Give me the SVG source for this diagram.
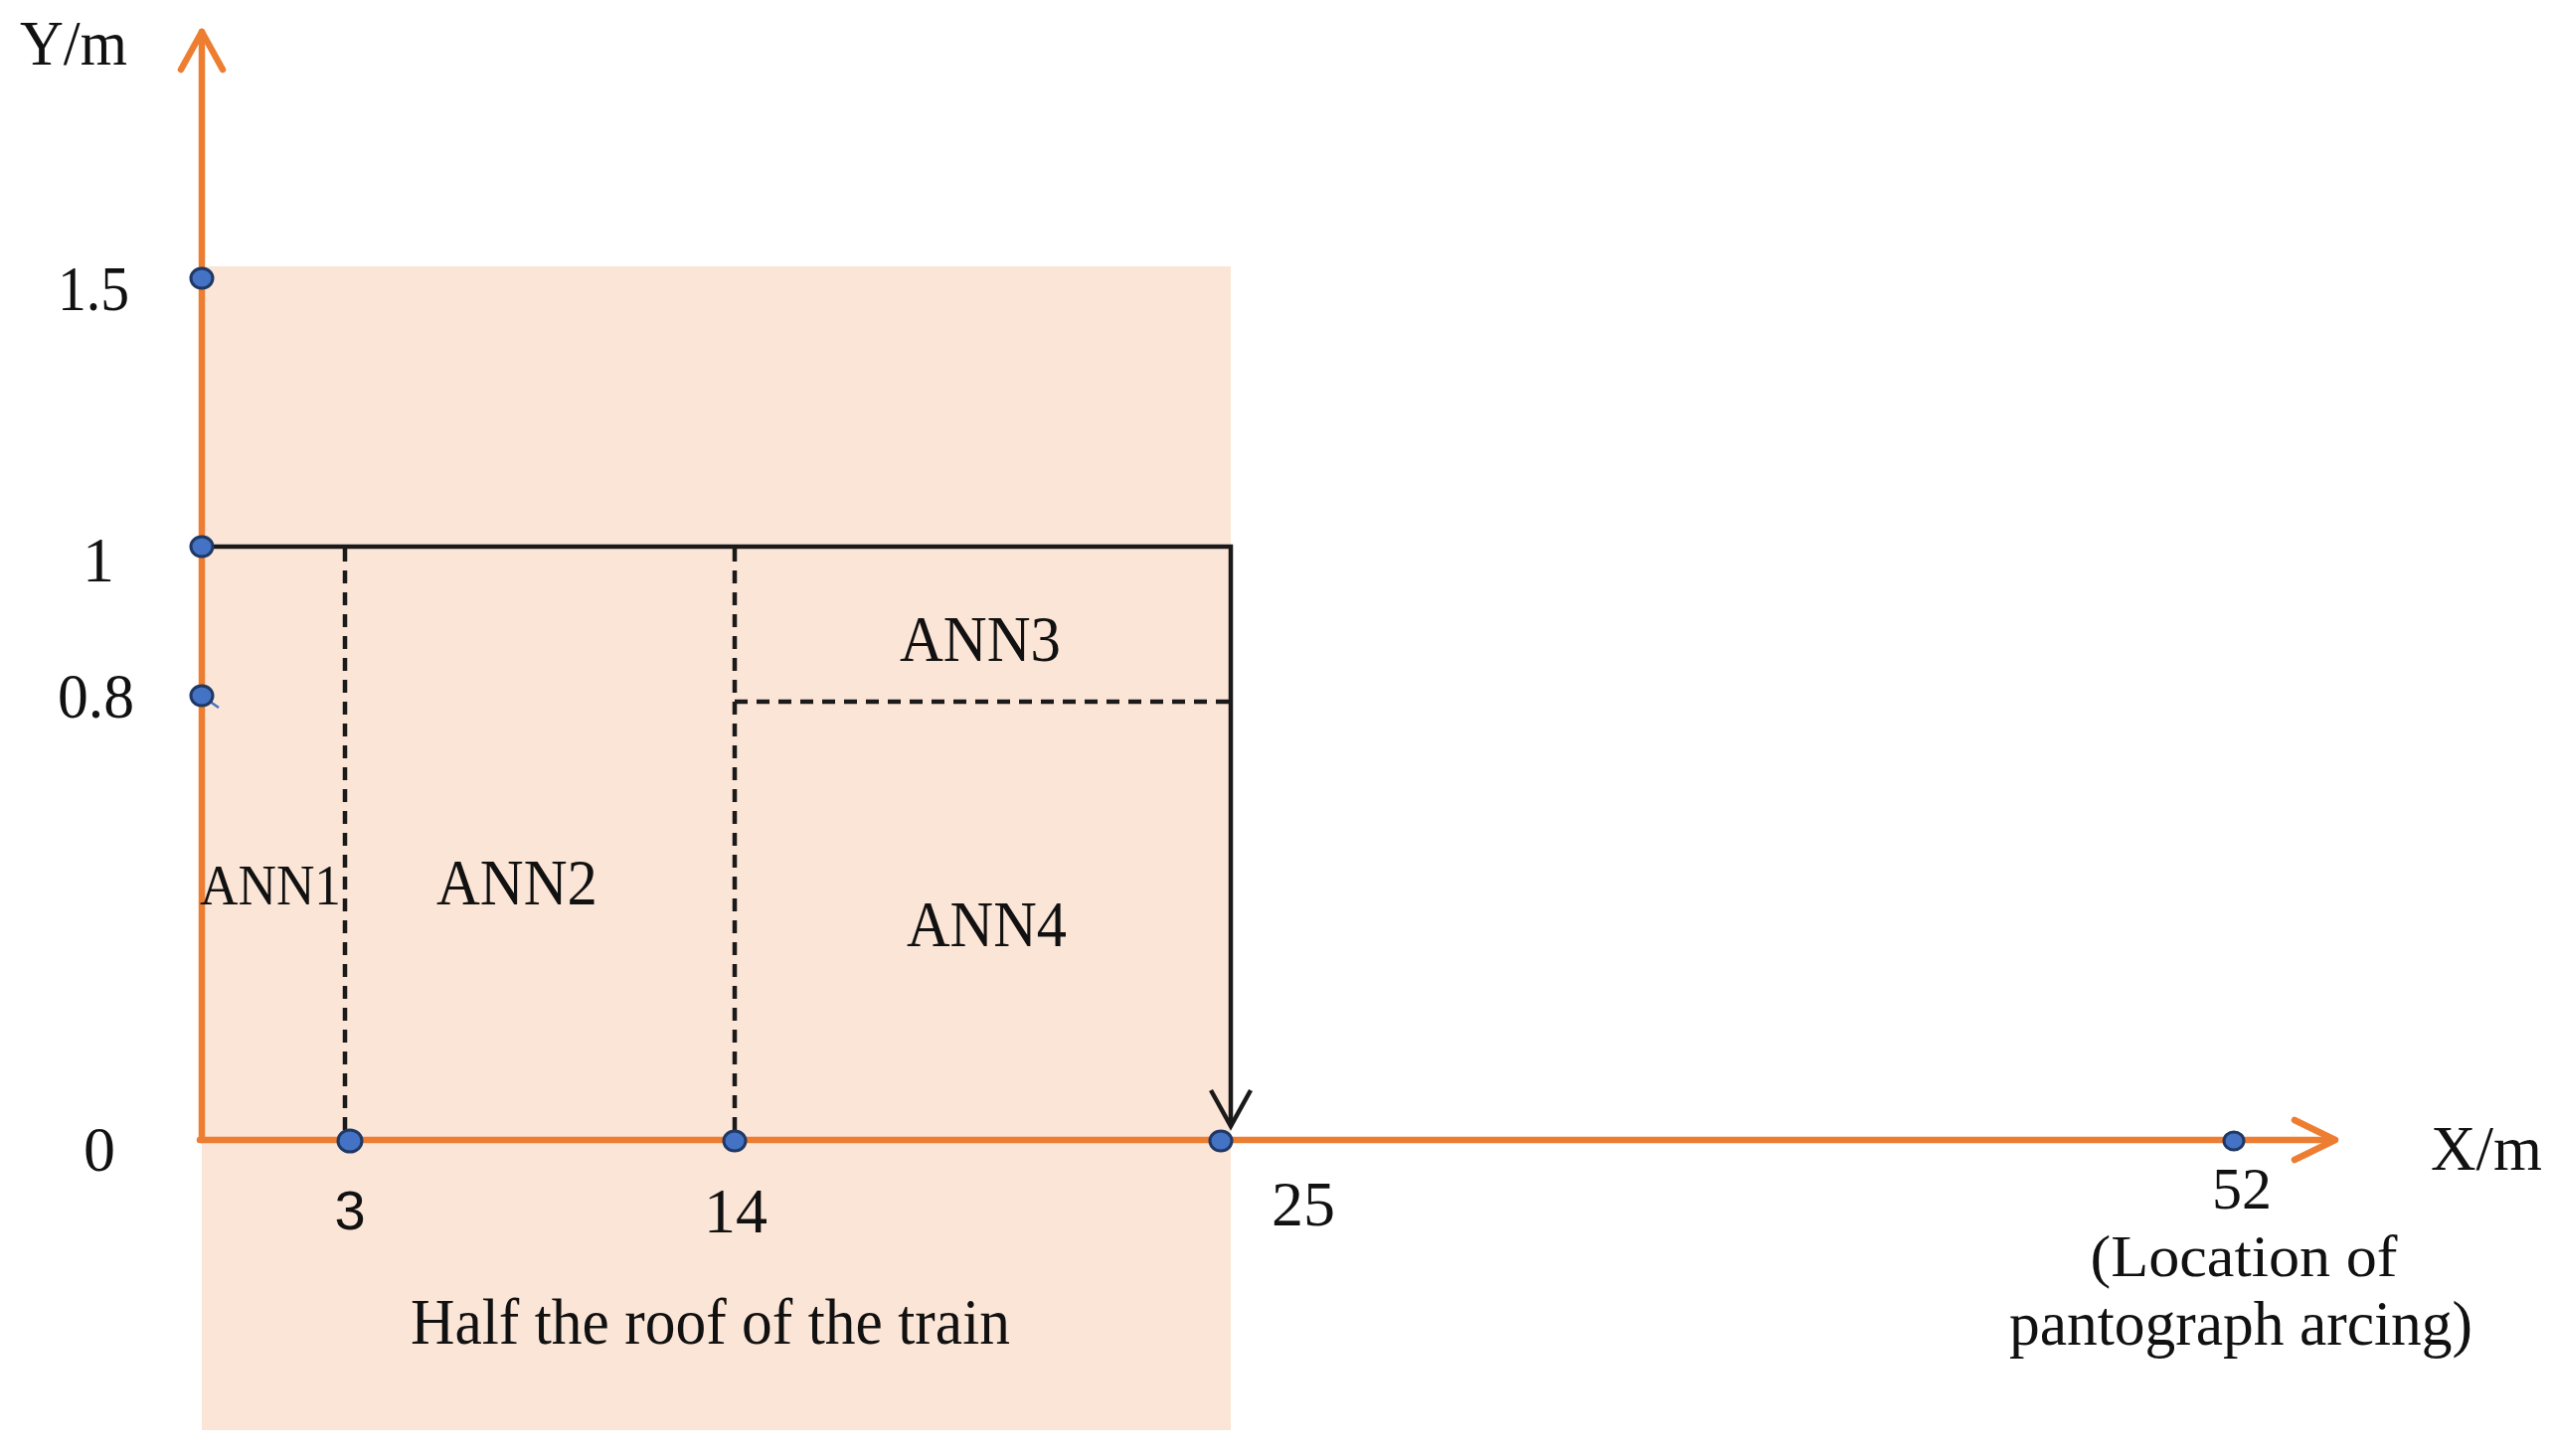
<svg xmlns="http://www.w3.org/2000/svg" width="2570" height="1465" viewBox="0 0 2570 1465">
<style>
.t{font-family:"Liberation Serif","Times New Roman",serif;fill:#111;font-size:64px}
.ax{stroke:#ED7D31;stroke-width:6.5;fill:none;stroke-linecap:round;stroke-linejoin:round}
.bl{stroke:#1a1a1a;stroke-width:4.5;fill:none}
.ds{stroke:#1a1a1a;stroke-width:4.5;fill:none;stroke-dasharray:13 9}
.pt{fill:#4472C4;stroke:#1F3864;stroke-width:3}
</style>
<rect id="roof" x="203" y="268" width="1035" height="1171" fill="#FBE5D6"/>
<g id="connectors">
  <path class="ds" d="M347 552 V1147"/>
  <path class="ds" d="M739 552 V1147"/>
  <path class="ds" d="M739 706 H1238"/>
  <path class="bl" d="M203 550 H1238 V1133"/>
  <path class="bl" d="M1218 1097 L1238 1133 L1258 1097"/>
  <path class="ax" d="M203 1147 V32"/>
  <path class="ax" d="M182 70 L203 32 L224 70"/>
  <path class="ax" d="M201 1147 H2348"/>
  <path class="ax" d="M2308 1127 L2349 1147 L2308 1167"/>
  <path d="M207 703 L220 712" stroke="#4472C4" stroke-width="2.5" fill="none"/>
</g>
<g id="points">
  <ellipse class="pt" cx="203" cy="280" rx="11" ry="10"/>
  <ellipse class="pt" cx="203" cy="550" rx="11" ry="10"/>
  <ellipse class="pt" cx="203" cy="700" rx="11" ry="10"/>
  <ellipse class="pt" cx="352" cy="1148" rx="12" ry="11"/>
  <ellipse class="pt" cx="739" cy="1148" rx="11" ry="10"/>
  <ellipse class="pt" cx="1228" cy="1148" rx="11" ry="10"/>
  <ellipse class="pt" cx="2247" cy="1148" rx="10" ry="9"/>
</g>
<g id="axis-labels">
  <text class="t" x="20" y="65" textLength="108" lengthAdjust="spacingAndGlyphs">Y/m</text>
  <text class="t" x="2445" y="1177" textLength="112" lengthAdjust="spacingAndGlyphs">X/m</text>
  <text class="t" x="58" y="312" textLength="72" lengthAdjust="spacingAndGlyphs">1.5</text>
  <text class="t" x="83" y="585">1</text>
  <text class="t" x="58" y="722" textLength="77" lengthAdjust="spacingAndGlyphs">0.8</text>
  <text class="t" x="84" y="1178">0</text>
  <text class="t" x="352" y="1237" text-anchor="middle" style="font-family:'Liberation Sans',Arial,sans-serif;font-size:56px">3</text>
  <text class="t" x="740" y="1240" text-anchor="middle">14</text>
  <text class="t" x="1279" y="1233">25</text>
  <text class="t" x="2255" y="1216" text-anchor="middle" style="font-size:60px">52</text>
  <text class="t" x="2257" y="1284" text-anchor="middle" style="font-size:60px" textLength="309" lengthAdjust="spacingAndGlyphs">(Location of</text>
  <text class="t" x="2254" y="1353" text-anchor="middle" textLength="466" lengthAdjust="spacingAndGlyphs">pantograph arcing)</text>
</g>
<g id="ann1"><text class="t" x="201" y="910" style="font-size:58px" textLength="142" lengthAdjust="spacingAndGlyphs">ANN1</text></g>
<g id="ann2"><text class="t" x="439" y="910" style="font-size:65px" textLength="162" lengthAdjust="spacingAndGlyphs">ANN2</text></g>
<g id="ann3"><text class="t" x="905" y="665" style="font-size:65px" textLength="162" lengthAdjust="spacingAndGlyphs">ANN3</text></g>
<g id="ann4"><text class="t" x="912" y="952" style="font-size:65px" textLength="161" lengthAdjust="spacingAndGlyphs">ANN4</text></g>
<g id="roof-label"><text class="t" x="413" y="1352" style="font-size:66px" textLength="603" lengthAdjust="spacingAndGlyphs">Half the roof of the train</text></g>
</svg>
